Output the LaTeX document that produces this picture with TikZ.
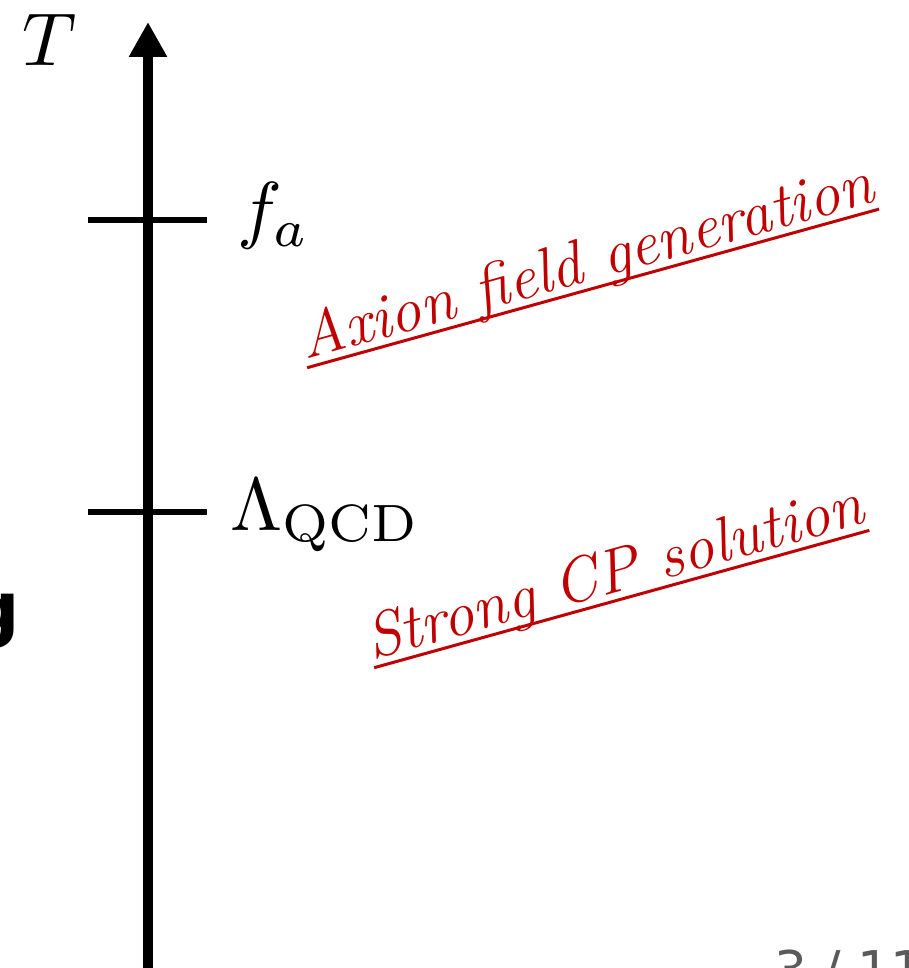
\documentclass[tikz,border=0pt]{standalone}
\usepackage{fontspec}
\usepackage{graphicx}
\usetikzlibrary{arrows.meta,calc}
\newfontfamily\slidesans{DejaVu Sans}
\definecolor{redtxt}{RGB}{192,0,0}
\definecolor{pagegray}{RGB}{90,90,90}
\tikzset{
  axisline/.style={line width=10pt,-{Triangle[length=35pt,width=36pt]}},
  tickline/.style={line width=6.5pt},
  mathlbl/.style={inner sep=0pt,anchor=base west},
  redlbl/.style={inner sep=0pt,anchor=base west,text=redtxt,rotate=15.5,font=\fontsize{63}{70}\selectfont\itshape},
  uline/.style={draw=redtxt,line width=3pt}
}
\newcommand{\bigmath}[1]{\scalebox{7.5}{$#1$}}
\begin{document}
\begin{tikzpicture}[x=1pt,y=-1pt]
\useasboundingbox (0,0) rectangle (908,968);
% axis
\coordinate (axbot) at (148,985);
\coordinate (axtop) at (148,22);
\draw[axisline] (axbot) -- (axtop);
% ticks
\coordinate (t1l) at (88,220); \coordinate (t1r) at (207,220);
\coordinate (t2l) at (88,512); \coordinate (t2r) at (207,512);
\draw[tickline] (t1l) -- (t1r);
\draw[tickline] (t2l) -- (t2r);
% labels
\node[mathlbl] (T) at (22,66) {\bigmath{T}};
\node[mathlbl] (fa) at (237,235) {\bigmath{f_a}};
\node[mathlbl] (lqcd) at (230,530) {\bigmath{\Lambda_{\mathrm{QCD}}}};
% red annotations
\node[redlbl] (axion) at (305,360) {Axion field generation};
\draw[uline] ($(axion.base west)!8pt!-90:(axion.base east)$) -- ($(axion.base east)!8pt!90:(axion.base west)$);
\node[redlbl] (strong) at (372,660) {Strong CP solution};
\draw[uline] ($(strong.base west)!8pt!-90:(strong.base east)$) -- ($(strong.base east)!8pt!90:(strong.base west)$);
% cut-off slide fragments
\node[inner sep=0pt,anchor=base east,font=\fontsize{72}{80}\selectfont\slidesans\bfseries] (g) at (20,633) {g};
\node[inner sep=0pt,anchor=base west,text=pagegray,font=\fontsize{52}{60}\selectfont\slidesans] (page) at (774,988) {3 / 11};
\end{tikzpicture}
\end{document}
